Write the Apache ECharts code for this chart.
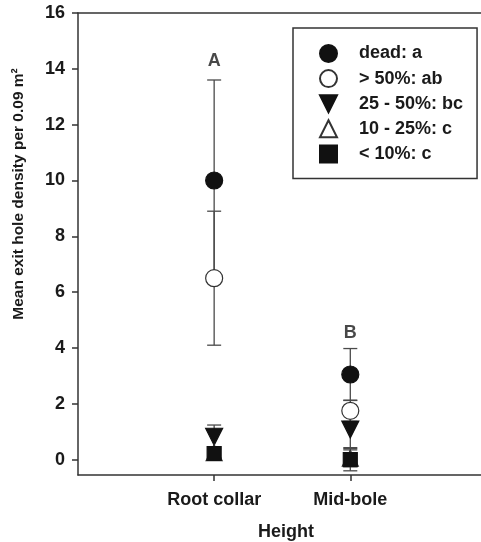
<!DOCTYPE html>
<html>
<head>
<meta charset="utf-8">
<script src="https://cdn.jsdelivr.net/npm/echarts@6/dist/echarts.min.js"></script>
<style>
  html, body { margin: 0; padding: 0; background: #fff; }
  #chart { width: 481px; height: 542px; }
</style>
</head>
<body>
<div id="chart"></div>
<script>
// heights along the stem
const categories = ['Root collar', 'Mid-bole'];
const yTicks = [0, 2, 4, 6, 8, 10, 12, 14, 16];

// crown condition classes (legend names)
const seriesNames = ['dead: a', '> 50%: ab', '25 - 50%: bc', '10 - 25%: c', '< 10%: c'];

// means per height, one array per class
const deadMean   = [10.0, 3.05];
const gt50Mean   = [6.5, 1.75];
const mid2550    = [0.82, 1.08];
const mid1025    = [0.25, 0.05];
const lt10Mean   = [0.22, 0.0];

// standard errors
const deadErr    = [3.6, 0.93];
const gt50Err    = [2.4, 0.38];
const err2550    = [0.42, 0.65];
const err1025    = [0.2, 0.3];
const lt10Err    = [0.15, 0.4];

// group letters above the columns
const groupLetters = ['A', 'B'];
const letterY      = [14.28, 4.52];

const FONT = '"Liberation Sans", Arial, sans-serif';
const INK = '#1a1a1a';
const DOWN_TRI = 'path://M0,0L10,0L5,10Z';

const means = [deadMean, gt50Mean, mid2550, mid1025, lt10Mean];
const errs  = [deadErr, gt50Err, err2550, err1025, lt10Err];
const symbols = [
  { symbol: 'circle',   size: 17, rotate: 0,   fill: '#111', border: '#111', icon: 'circle' },
  { symbol: 'circle',   size: 17, rotate: 0,   fill: '#fff', border: '#333', icon: 'circle' },
  { symbol: 'triangle', size: 17, rotate: 180, fill: '#111', border: '#111', icon: DOWN_TRI },
  { symbol: 'triangle', size: 16, rotate: 0,   fill: '#fff', border: '#333', icon: 'triangle' },
  { symbol: 'rect',     size: 14, rotate: 0,   fill: '#111', border: '#111', icon: 'rect' }
];

function errorBar(params, api) {
  const x = api.value(0);
  const lo = api.coord([x, api.value(1)]);
  const hi = api.coord([x, api.value(2)]);
  const half = 7;
  const style = { stroke: '#4a4a4a', lineWidth: 1.3 };
  return {
    type: 'group',
    children: [
      { type: 'line', shape: { x1: hi[0], y1: hi[1], x2: lo[0], y2: lo[1] }, style },
      { type: 'line', shape: { x1: hi[0] - half, y1: hi[1], x2: hi[0] + half, y2: hi[1] }, style },
      { type: 'line', shape: { x1: lo[0] - half, y1: lo[1], x2: lo[0] + half, y2: lo[1] }, style }
    ]
  };
}

const series = [];
seriesNames.forEach((name, s) => {
  series.push({
    name: 'err-' + s,
    type: 'custom',
    renderItem: errorBar,
    silent: true,
    data: means[s].map((m, i) => [i + 1, m - errs[s][i], m + errs[s][i]])
  });
  const sym = symbols[s];
  series.push({
    name,
    type: 'scatter',
    symbol: sym.symbol,
    symbolSize: sym.size,
    symbolRotate: sym.rotate,
    itemStyle: { color: sym.fill, borderColor: sym.border, borderWidth: 1.2, opacity: 1 },
    data: means[s].map((m, i) => [i + 1, m])
  });
});

series.push({
  name: 'letters',
  type: 'scatter',
  symbolSize: 0,
  silent: true,
  label: {
    show: true,
    position: 'inside',
    formatter: p => groupLetters[p.dataIndex],
    fontFamily: FONT, fontWeight: 'bold', fontSize: 18, color: INK
  },
  data: letterY.map((y, i) => [i + 1, y])
});

const chart = echarts.init(document.getElementById('chart'));
chart.setOption({
  animation: false,
  backgroundColor: '#fff',
  grid: { left: 78, right: 0, top: 13, bottom: 67 },
  xAxis: [
    {
      type: 'value', min: 0, max: 2.96, position: 'bottom',
      splitLine: { show: false },
      axisLine: { show: true, onZero: false, lineStyle: { color: '#333', width: 1.5 } },
      axisTick: { show: true, inside: false, length: 6, customValues: [1, 2],
                  lineStyle: { color: '#333', width: 1.5 } },
      axisLabel: {
        customValues: [1, 2], margin: 16,
        formatter: v => categories[Math.round(v) - 1] || '',
        fontFamily: FONT, fontWeight: 'bold', fontSize: 18, color: INK
      }
    },
    {
      type: 'value', min: 0, max: 2.96, position: 'top',
      splitLine: { show: false },
      axisLine: { show: true, onZero: false, lineStyle: { color: '#333', width: 1.5 } },
      axisTick: { show: false },
      axisLabel: { show: false }
    }
  ],
  yAxis: {
    type: 'value', min: -0.55, max: 16,
    splitLine: { show: false },
    axisLine: { show: true, onZero: false, lineStyle: { color: '#333', width: 1.5 } },
    axisTick: { show: true, inside: false, length: 6, customValues: yTicks,
                lineStyle: { color: '#333', width: 1.5 } },
    axisLabel: {
      customValues: yTicks, margin: 13,
      fontFamily: FONT, fontWeight: 'bold', fontSize: 18, color: INK
    }
  },
  legend: {
    orient: 'vertical',
    left: 293, top: 28,
    data: seriesNames.map((name, s) => ({ name, icon: symbols[s].icon })),
    itemWidth: 17, itemHeight: 17, itemGap: 6.1,
    padding: [16, 14, 15, 26],
    borderColor: '#333', borderWidth: 1.5,
    selectedMode: false,
    textStyle: { fontFamily: FONT, fontWeight: 'bold', fontSize: 18, color: INK,
                 padding: [0, 0, 0, 17] }
  },
  graphic: [
    {
      type: 'text', x: 19, y: 194, rotation: Math.PI / 2,
      style: {
        text: 'Mean exit hole density per 0.09 m²',
        x: 0, y: 0, align: 'center', verticalAlign: 'middle',
        fontFamily: FONT, fontWeight: 'bold', fontSize: 15.5, fill: INK
      }
    },
    {
      type: 'text', x: 286, y: 532,
      style: {
        text: 'Height', x: 0, y: 0, align: 'center', verticalAlign: 'middle',
        fontFamily: FONT, fontWeight: 'bold', fontSize: 18, fill: INK
      }
    }
  ],
  series
});
</script>
</body>
</html>
